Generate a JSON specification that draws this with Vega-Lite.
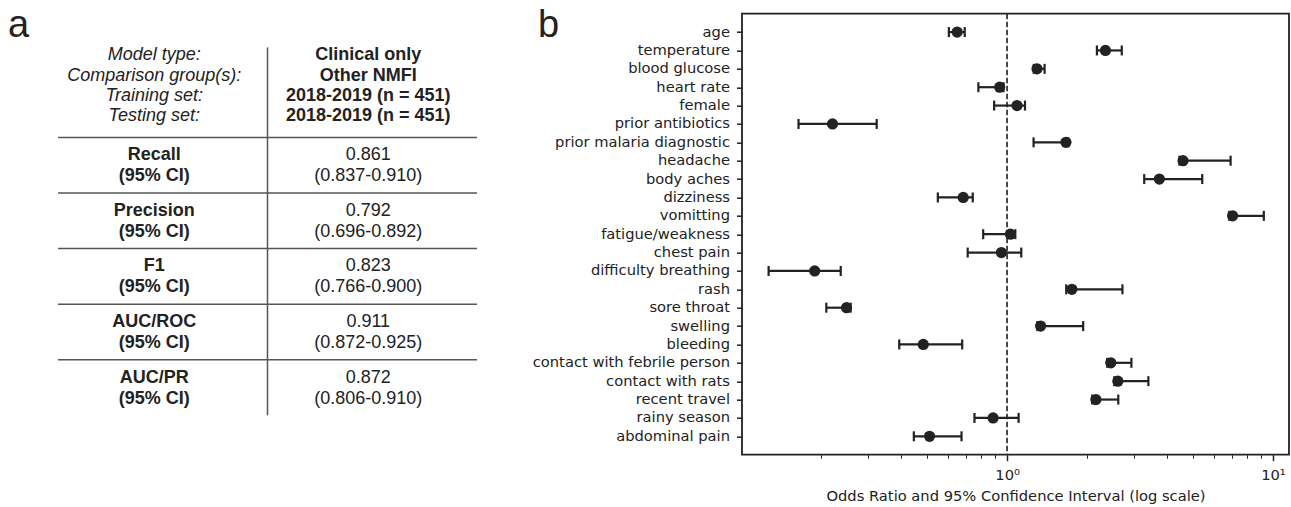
{
  "$schema": "https://vega.github.io/schema/vega-lite/v6.json",
  "background": "white",
  "padding": {"left": 0, "top": 6.7, "right": 0, "bottom": 0},
  "bounds": "flush",
  "spacing": 20,
  "datasets": {
    "header": [
      {"slot": "header", "label": "Model type:\nComparison group(s):\nTraining set:\nTesting set:", "setting": "Clinical only\nOther NMFI\n2018-2019 (n = 451)\n2018-2019 (n = 451)"}
    ],
    "metrics": [
      {"metric": "Recall", "estimate": "0.861", "ci": "(0.837-0.910)"},
      {"metric": "Precision", "estimate": "0.792", "ci": "(0.696-0.892)"},
      {"metric": "F1", "estimate": "0.823", "ci": "(0.766-0.900)"},
      {"metric": "AUC/ROC", "estimate": "0.911", "ci": "(0.872-0.925)"},
      {"metric": "AUC/PR", "estimate": "0.872", "ci": "(0.806-0.910)"}
    ],
    "panels": [{"panel": "a"}, {"panel": "b"}],
    "reference": [{"or": 1}],
    "odds": [
      {"feature": "age", "or": 0.649, "lower": 0.604, "upper": 0.693},
      {"feature": "temperature", "or": 2.344, "lower": 2.177, "upper": 2.70},
      {"feature": "blood glucose", "or": 1.296, "lower": 1.26, "upper": 1.384},
      {"feature": "heart rate", "or": 0.938, "lower": 0.780, "upper": 0.97},
      {"feature": "female", "or": 1.09, "lower": 0.894, "upper": 1.168},
      {"feature": "prior antibiotics", "or": 0.2205, "lower": 0.1643, "upper": 0.3233},
      {"feature": "prior malaria diagnostic", "or": 1.665, "lower": 1.258, "upper": 1.70},
      {"feature": "headache", "or": 4.59, "lower": 4.45, "upper": 6.93},
      {"feature": "body aches", "or": 3.74, "lower": 3.28, "upper": 5.42},
      {"feature": "dizziness", "or": 0.684, "lower": 0.549, "upper": 0.743},
      {"feature": "vomitting", "or": 7.05, "lower": 6.85, "upper": 9.24},
      {"feature": "fatigue/weakness", "or": 1.029, "lower": 0.813, "upper": 1.074},
      {"feature": "chest pain", "or": 0.952, "lower": 0.711, "upper": 1.131},
      {"feature": "difficulty breathing", "or": 0.189, "lower": 0.1268, "upper": 0.2368},
      {"feature": "rash", "or": 1.753, "lower": 1.669, "upper": 2.716},
      {"feature": "sore throat", "or": 0.249, "lower": 0.209, "upper": 0.258},
      {"feature": "swelling", "or": 1.337, "lower": 1.30, "upper": 1.933},
      {"feature": "bleeding", "or": 0.484, "lower": 0.393, "upper": 0.678},
      {"feature": "contact with febrile person", "or": 2.455, "lower": 2.38, "upper": 2.935},
      {"feature": "contact with rats", "or": 2.61, "lower": 2.53, "upper": 3.40},
      {"feature": "recent travel", "or": 2.158, "lower": 2.09, "upper": 2.62},
      {"feature": "rainy season", "or": 0.886, "lower": 0.754, "upper": 1.105},
      {"feature": "abdominal pain", "or": 0.511, "lower": 0.446, "upper": 0.674}
    ]
  },
  "hconcat": [
    {
      "width": 722,
      "height": 441,
      "view": {"stroke": null},
      "resolve": {"scale": {"x": "independent"}},
      "layer": [
        {
          "layer": [
            {
              "data": {"name": "header"},
              "mark": {"type": "text", "font": "Liberation Sans", "fontStyle": "italic", "fontSize": 18, "lineHeight": 20.3, "lineBreak": "\n", "color": "#222", "align": "center", "baseline": "middle", "dx": -8.5, "dy": -54.2},
              "encoding": {
                "x": {"datum": "label", "scale": {"type": "band", "domain": ["label", "value"], "paddingInner": 0, "paddingOuter": 0.7232, "align": 0.1914}, "axis": null},
                "y": {"field": "slot", "type": "nominal", "scale": {"type": "band", "domain": ["header", "Recall", "Precision", "F1", "AUC/ROC", "AUC/PR"], "paddingInner": 0, "paddingOuter": 0.9658, "align": 0.634}, "axis": null},
                "text": {"field": "label", "type": "nominal"}
              }
            },
            {
              "data": {"name": "header"},
              "mark": {"type": "text", "font": "Liberation Sans", "fontWeight": "bold", "fontSize": 18, "lineHeight": 20.3, "lineBreak": "\n", "color": "#222", "align": "center", "baseline": "middle", "dx": -4, "dy": -54.2},
              "encoding": {
                "x": {"datum": "value", "scale": {"type": "band", "domain": ["label", "value"], "paddingInner": 0, "paddingOuter": 0.7232, "align": 0.1914}, "axis": null},
                "y": {"field": "slot", "type": "nominal", "scale": {"type": "band", "domain": ["header", "Recall", "Precision", "F1", "AUC/ROC", "AUC/PR"], "paddingInner": 0, "paddingOuter": 0.9658, "align": 0.634}, "axis": null},
                "text": {"field": "setting", "type": "nominal"}
              }
            },
            {
              "data": {"name": "metrics"},
              "mark": {"type": "text", "font": "Liberation Sans", "fontWeight": "bold", "fontSize": 18, "color": "#222", "align": "center", "baseline": "middle", "dx": -8.5, "dy": -10},
              "encoding": {
                "x": {"datum": "label", "scale": {"type": "band", "domain": ["label", "value"], "paddingInner": 0, "paddingOuter": 0.7232, "align": 0.1914}, "axis": null},
                "y": {"field": "metric", "type": "nominal", "scale": {"type": "band", "domain": ["header", "Recall", "Precision", "F1", "AUC/ROC", "AUC/PR"], "paddingInner": 0, "paddingOuter": 0.9658, "align": 0.634}, "axis": null},
                "text": {"field": "metric", "type": "nominal"}
              }
            },
            {
              "data": {"name": "metrics"},
              "mark": {"type": "text", "font": "Liberation Sans", "fontWeight": "bold", "fontSize": 18, "color": "#222", "align": "center", "baseline": "middle", "dx": -8.5, "dy": 11},
              "encoding": {
                "x": {"datum": "label", "scale": {"type": "band", "domain": ["label", "value"], "paddingInner": 0, "paddingOuter": 0.7232, "align": 0.1914}, "axis": null},
                "y": {"field": "metric", "type": "nominal", "scale": {"type": "band", "domain": ["header", "Recall", "Precision", "F1", "AUC/ROC", "AUC/PR"], "paddingInner": 0, "paddingOuter": 0.9658, "align": 0.634}, "axis": null},
                "text": {"value": "(95% CI)"}
              }
            },
            {
              "data": {"name": "metrics"},
              "mark": {"type": "text", "font": "Liberation Sans", "fontSize": 18, "color": "#222", "align": "center", "baseline": "middle", "dx": -4, "dy": -10},
              "encoding": {
                "x": {"datum": "value", "scale": {"type": "band", "domain": ["label", "value"], "paddingInner": 0, "paddingOuter": 0.7232, "align": 0.1914}, "axis": null},
                "y": {"field": "metric", "type": "nominal", "scale": {"type": "band", "domain": ["header", "Recall", "Precision", "F1", "AUC/ROC", "AUC/PR"], "paddingInner": 0, "paddingOuter": 0.9658, "align": 0.634}, "axis": null},
                "text": {"field": "estimate", "type": "nominal"}
              }
            },
            {
              "data": {"name": "metrics"},
              "mark": {"type": "text", "font": "Liberation Sans", "fontSize": 18, "color": "#222", "align": "center", "baseline": "middle", "dx": -4, "dy": 11},
              "encoding": {
                "x": {"datum": "value", "scale": {"type": "band", "domain": ["label", "value"], "paddingInner": 0, "paddingOuter": 0.7232, "align": 0.1914}, "axis": null},
                "y": {"field": "metric", "type": "nominal", "scale": {"type": "band", "domain": ["header", "Recall", "Precision", "F1", "AUC/ROC", "AUC/PR"], "paddingInner": 0, "paddingOuter": 0.9658, "align": 0.634}, "axis": null},
                "text": {"field": "ci", "type": "nominal"}
              }
            },
            {
              "data": {"name": "metrics"},
              "mark": {"type": "tick", "orient": "horizontal", "size": 209.5, "thickness": 1.5, "color": "#555", "opacity": 1},
              "encoding": {
                "x": {"datum": "label", "scale": {"type": "band", "domain": ["label", "value"], "paddingInner": 0, "paddingOuter": 0.7232, "align": 0.1914}, "axis": null},
                "y": {"field": "metric", "type": "nominal", "bandPosition": 0, "scale": {"type": "band", "domain": ["header", "Recall", "Precision", "F1", "AUC/ROC", "AUC/PR"], "paddingInner": 0, "paddingOuter": 0.9658, "align": 0.634}, "axis": null}
              }
            },
            {
              "data": {"name": "metrics"},
              "mark": {"type": "tick", "orient": "horizontal", "size": 209.5, "thickness": 1.5, "color": "#555", "opacity": 1},
              "encoding": {
                "x": {"datum": "value", "scale": {"type": "band", "domain": ["label", "value"], "paddingInner": 0, "paddingOuter": 0.7232, "align": 0.1914}, "axis": null},
                "y": {"field": "metric", "type": "nominal", "bandPosition": 0, "scale": {"type": "band", "domain": ["header", "Recall", "Precision", "F1", "AUC/ROC", "AUC/PR"], "paddingInner": 0, "paddingOuter": 0.9658, "align": 0.634}, "axis": null}
              }
            },
            {
              "data": {"name": "metrics"},
              "mark": {"type": "tick", "orient": "vertical", "size": 55.6, "thickness": 1.5, "color": "#555", "opacity": 1},
              "encoding": {
                "x": {"datum": "value", "bandPosition": 0, "scale": {"type": "band", "domain": ["label", "value"], "paddingInner": 0, "paddingOuter": 0.7232, "align": 0.1914}, "axis": null},
                "y": {"field": "metric", "type": "nominal", "scale": {"type": "band", "domain": ["header", "Recall", "Precision", "F1", "AUC/ROC", "AUC/PR"], "paddingInner": 0, "paddingOuter": 0.9658, "align": 0.634}, "axis": null}
              }
            },
            {
              "data": {"name": "header"},
              "mark": {"type": "tick", "orient": "vertical", "size": 90, "thickness": 1.5, "color": "#555", "opacity": 1, "yOffset": -17.2},
              "encoding": {
                "x": {"datum": "value", "bandPosition": 0, "scale": {"type": "band", "domain": ["label", "value"], "paddingInner": 0, "paddingOuter": 0.7232, "align": 0.1914}, "axis": null},
                "y": {"field": "slot", "type": "nominal", "scale": {"type": "band", "domain": ["header", "Recall", "Precision", "F1", "AUC/ROC", "AUC/PR"], "paddingInner": 0, "paddingOuter": 0.9658, "align": 0.634}, "axis": null}
              }
            }
          ]
        },
        {
          "data": {"name": "panels"},
          "mark": {"type": "text", "font": "Liberation Sans", "fontSize": 38, "color": "#222", "align": "center", "baseline": "alphabetic", "dy": -44.7},
          "encoding": {
            "x": {"field": "panel", "type": "nominal", "scale": {"type": "point", "domain": ["a", "b"], "padding": 0.1811, "align": 0.0964}, "axis": null},
            "y": {"datum": "header", "bandPosition": 0, "scale": {"type": "band", "domain": ["header", "Recall", "Precision", "F1", "AUC/ROC", "AUC/PR"], "paddingInner": 0, "paddingOuter": 0.9658, "align": 0.634}, "axis": null},
            "text": {"field": "panel", "type": "nominal"}
          }
        }
      ]
    },
    {
      "width": 547,
      "height": 441,
      "resolve": {"axis": {"x": "independent"}},
      "layer": [
        {
          "data": {"name": "reference"},
          "mark": {"type": "rule", "strokeDash": [5.5, 2.5], "strokeWidth": 1.6, "color": "#222"},
          "encoding": {
            "x": {"field": "or", "type": "quantitative", "scale": {"type": "log", "domain": [0.1007, 11.49], "nice": false}, "axis": null}
          }
        },
        {
          "data": {"name": "odds"},
          "mark": {"type": "rule", "strokeWidth": 2.2, "color": "#222"},
          "encoding": {
            "x": {"field": "lower", "type": "quantitative", "scale": {"type": "log", "domain": [0.1007, 11.49], "nice": false},
                  "axis": {"orient": "bottom", "values": [0.2, 0.3, 0.4, 0.5, 0.6, 0.7, 0.8, 0.9, 2, 3, 4, 5, 6, 7, 8, 9], "tickSize": 3.5, "tickWidth": 1, "tickColor": "#222", "labels": false, "domain": false, "grid": false, "title": null}},
            "x2": {"field": "upper"},
            "y": {"field": "feature", "type": "nominal", "sort": null, "scale": {"type": "point", "padding": 1.1},
                  "axis": {"title": null, "domain": false, "tickSize": 5.5, "tickWidth": 1.5, "tickColor": "#222", "labelFont": "DejaVu Sans", "labelFontSize": 14.7, "labelColor": "#222", "labelPadding": 7, "labelLimit": 400}}
          }
        },
        {
          "data": {"name": "odds"},
          "mark": {"type": "tick", "orient": "vertical", "size": 10, "thickness": 2.2, "color": "#222", "opacity": 1},
          "encoding": {
            "x": {"field": "lower", "type": "quantitative", "scale": {"type": "log", "domain": [0.1007, 11.49], "nice": false}, "axis": null},
            "y": {"field": "feature", "type": "nominal", "sort": null, "scale": {"type": "point", "padding": 1.1},
                  "axis": {"title": null, "domain": false, "tickSize": 5.5, "tickWidth": 1.5, "tickColor": "#222", "labelFont": "DejaVu Sans", "labelFontSize": 14.7, "labelColor": "#222", "labelPadding": 7, "labelLimit": 400}}
          }
        },
        {
          "data": {"name": "odds"},
          "mark": {"type": "tick", "orient": "vertical", "size": 10, "thickness": 2.2, "color": "#222", "opacity": 1},
          "encoding": {
            "x": {"field": "upper", "type": "quantitative", "scale": {"type": "log", "domain": [0.1007, 11.49], "nice": false}, "axis": null},
            "y": {"field": "feature", "type": "nominal", "sort": null, "scale": {"type": "point", "padding": 1.1},
                  "axis": {"title": null, "domain": false, "tickSize": 5.5, "tickWidth": 1.5, "tickColor": "#222", "labelFont": "DejaVu Sans", "labelFontSize": 14.7, "labelColor": "#222", "labelPadding": 7, "labelLimit": 400}}
          }
        },
        {
          "data": {"name": "odds"},
          "mark": {"type": "circle", "size": 125, "color": "#222", "opacity": 1},
          "encoding": {
            "x": {"field": "or", "type": "quantitative", "scale": {"type": "log", "domain": [0.1007, 11.49], "nice": false},
                  "axis": {"orient": "bottom", "values": [1, 10], "labelExpr": "datum.value == 1 ? '10⁰' : '10¹'", "tickSize": 6, "tickWidth": 1.5, "tickColor": "#222", "domain": false, "grid": false, "labelFont": "DejaVu Sans", "labelFontSize": 14.7, "labelColor": "#222", "labelPadding": 7, "labelFlush": false,
                           "title": "Odds Ratio and 95% Confidence Interval (log scale)", "titleFont": "DejaVu Sans", "titleFontSize": 14.7, "titleFontWeight": "normal", "titleColor": "#222", "titlePadding": 6.5}},
            "y": {"field": "feature", "type": "nominal", "sort": null, "scale": {"type": "point", "padding": 1.1},
                  "axis": {"title": null, "domain": false, "tickSize": 5.5, "tickWidth": 1.5, "tickColor": "#222", "labelFont": "DejaVu Sans", "labelFontSize": 14.7, "labelColor": "#222", "labelPadding": 7, "labelLimit": 400}}
          }
        }
      ]
    }
  ],
  "config": {
    "view": {"stroke": "#222", "strokeWidth": 1.8},
    "font": "DejaVu Sans"
  }
}
